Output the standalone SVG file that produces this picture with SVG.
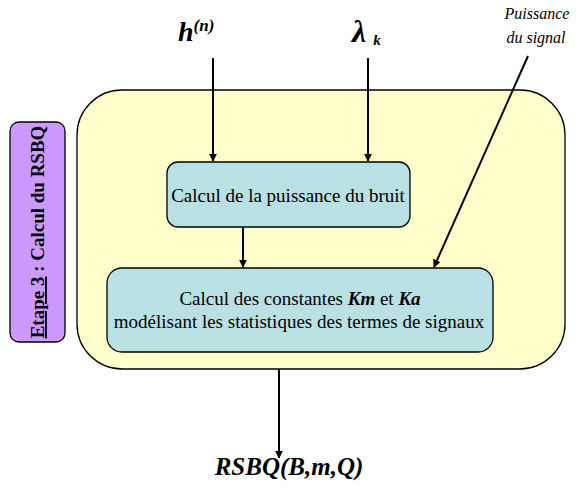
<svg xmlns="http://www.w3.org/2000/svg" width="577" height="488" viewBox="0 0 577 488">
<defs>
<marker id="ah" viewBox="0 0 10 10" refX="9" refY="5" markerWidth="8" markerHeight="8" markerUnits="userSpaceOnUse" orient="auto"><path d="M0,0 L10,5 L0,10 z" fill="#000"/></marker>
<style>
.t{font-family:"Liberation Serif","Times New Roman",serif;fill:#000}
.box{stroke:#000;stroke-width:1.3}
.c{stroke:#000;stroke-width:2;fill:none;marker-end:url(#ah)}
</style>
</defs>
<rect width="577" height="488" fill="#fff"/>
<g id="etape">
<rect x="10" y="122" width="55" height="220" rx="9" fill="#cc99ff" class="box"/>
<text class="t" transform="translate(44,232) rotate(-90)" text-anchor="middle" font-size="19" font-weight="bold"><tspan text-decoration="underline">Etape 3</tspan> : Calcul du RSBQ</text>
</g>
<g id="main">
<rect x="77" y="90" width="488" height="279" rx="45" fill="#ffffcc" class="box"/>
</g>
<g id="bruit">
<rect x="167" y="162" width="243" height="65" rx="11" fill="#b9e0e3" class="box"/>
<text class="t" x="288" y="202" text-anchor="middle" font-size="19">Calcul de la puissance du bruit</text>
</g>
<g id="constantes">
<rect x="107" y="268" width="386" height="84" rx="15" fill="#b9e0e3" class="box"/>
<text class="t" x="300" y="305" text-anchor="middle" font-size="19">Calcul des constantes <tspan font-weight="bold" font-style="italic">Km</tspan> et <tspan font-weight="bold" font-style="italic">Ka</tspan></text>
<text class="t" x="299" y="328" text-anchor="middle" font-size="19">modélisant les statistiques des termes de signaux</text>
</g>
<g id="inputs">
<text class="t" x="178" y="41" font-size="28" font-weight="bold" font-style="italic">h<tspan font-size="17" dy="-10">(n)</tspan></text>
<text class="t" x="352" y="42" font-size="32" font-weight="bold" font-style="italic">λ<tspan font-size="15" dx="7" dy="3">k</tspan></text>
<text class="t" x="537" y="19" text-anchor="middle" font-size="16" font-style="italic">Puissance</text>
<text class="t" x="536" y="43" text-anchor="middle" font-size="16" font-style="italic">du signal</text>
<text class="t" x="289" y="475" text-anchor="middle" font-size="25" font-weight="bold" font-style="italic">RSBQ(B,m,Q)</text>
</g>
<g id="connectors">
<line class="c" x1="213" y1="58" x2="213" y2="161"/>
<line class="c" x1="368" y1="58" x2="368" y2="161"/>
<line class="c" x1="243" y1="227" x2="243" y2="267"/>
<line class="c" x1="528" y1="56" x2="434" y2="267"/>
<line class="c" x1="279" y1="369" x2="279" y2="458"/>
</g>
</svg>
